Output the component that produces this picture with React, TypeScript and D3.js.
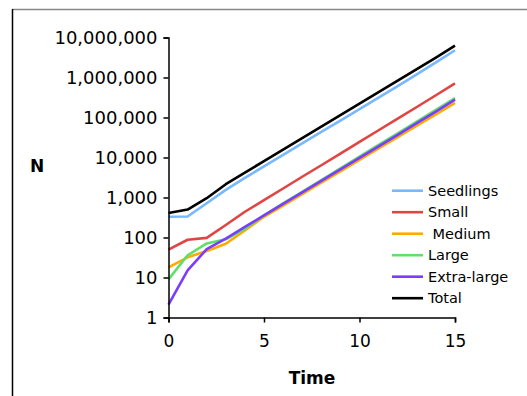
import { useEffect, useRef } from "react";
import * as d3 from "d3";

const times = [0, 1, 2, 3, 4, 5, 6, 7, 8, 9, 10, 11, 12, 13, 14, 15];

const seedlings = [330, 335, 720, 1550, 3100, 6000, 11600, 22500, 43500, 84000, 163000, 315000, 610000, 1200000, 2400000, 4800000];
const small = [50, 88, 98, 205, 440, 860, 1680, 3300, 6400, 12500, 24500, 48000, 94000, 183000, 360000, 710000];
const medium = [18, 32, 46, 70, 150, 330, 630, 1220, 2340, 4520, 8700, 16800, 32400, 62400, 120000, 232000];
const large = [9, 36, 71, 90, 165, 360, 710, 1390, 2730, 5350, 10500, 20600, 40400, 79000, 155000, 305000];
const extraLarge = [2.1, 15, 51, 94, 185, 355, 690, 1340, 2600, 5050, 9800, 19000, 37000, 72000, 140000, 280000];
const total = [410, 500, 960, 2150, 4200, 8100, 15700, 30500, 59000, 114000, 221000, 430000, 830000, 1610000, 3150000, 6300000];

const seriesNames = ["Seedlings", "Small", " Medium", "Large", "Extra-large", "Total"];
const seriesColors = ["#77b8ff", "#e24444", "#ffaa00", "#5fe06a", "#7a3cff", "#000000"];
const yTicks = [1, 10, 100, 1000, 10000, 100000, 1000000, 10000000];
const xTicks = [0, 5, 10, 15];

export default function App() {
  const svgRef = useRef<SVGSVGElement>(null);

  const width = 527;
  const height = 396;

  useEffect(() => {
    document.body.style.margin = "0";
    const svg = d3.select(svgRef.current);
    svg.selectAll("*").remove();

    const x = d3.scaleLinear().domain([0, 15]).range([168.5, 455]);
    const y = d3.scaleLog().domain([1, 10000000]).range([317.5, 37.5]);

    // frame
    svg.append("line").attr("x1", 12).attr("x2", width).attr("y1", 9.5).attr("y2", 9.5)
      .style("stroke", "#888").style("stroke-width", 1.5);
    svg.append("line").attr("x1", 12.5).attr("x2", 12.5).attr("y1", 9).attr("y2", height)
      .style("stroke", "#000").style("stroke-width", 1.5);

    const font = "DejaVu Sans, Verdana, sans-serif";

    const all = [seedlings, small, medium, large, extraLarge, total];
    const line = d3.line<number>()
      .x((d, i) => x(times[i]))
      .y((d) => y(d));

    // draw order so purple sits over green, black on top
    [2, 3, 4, 1, 0, 5].forEach((k) => {
      svg.append("path")
        .datum(all[k])
        .attr("d", line)
        .style("fill", "none")
        .style("stroke", seriesColors[k])
        .style("stroke-width", 2.6)
        .style("stroke-linejoin", "round");
    });

    // y axis
    const yAxis = svg.append("g").attr("transform", `translate(${x(0)},0)`)
      .call(d3.axisLeft(y).tickValues(yTicks).tickFormat(d3.format(",")).tickSize(5).tickPadding(6));
    yAxis.select(".domain").style("stroke-width", 1.5);
    yAxis.selectAll("line").style("stroke-width", 1.5);
    yAxis.selectAll("text").style("font-family", font).style("font-size", "18px").attr("fill", "#000");

    // x axis
    const xAxis = svg.append("g").attr("transform", `translate(0,${y(1)})`)
      .call(d3.axisBottom(x).tickValues(xTicks).tickSize(5).tickPadding(12));
    xAxis.select(".domain").style("stroke-width", 1.5);
    xAxis.selectAll("line").style("stroke-width", 1.5);
    xAxis.selectAll("text").style("font-family", font).style("font-size", "17px").attr("fill", "#000");

    svg.append("text").attr("x", 312).attr("y", 384).attr("text-anchor", "middle")
      .style("font-family", font).style("font-size", "17px").style("font-weight", "bold")
      .text("Time");
    svg.append("text").attr("x", 37).attr("y", 172).attr("text-anchor", "middle")
      .style("font-family", font).style("font-size", "17px").style("font-weight", "bold")
      .text("N");

    // legend
    const legend = svg.append("g");
    seriesNames.forEach((name, i) => {
      const ly = 190.7 + i * 21.5;
      legend.append("line").attr("x1", 392).attr("x2", 423).attr("y1", ly).attr("y2", ly)
        .style("stroke", seriesColors[i]).style("stroke-width", 2.6);
      legend.append("text").attr("x", 428).attr("y", ly + 5)
        .attr("xml:space", "preserve")
        .style("white-space", "pre")
        .style("font-family", font).style("font-size", "14.5px")
        .text(name);
    });
  }, []);

  return <svg ref={svgRef} width={width} height={height} style={{ display: "block", background: "#fff" }}></svg>;
}
